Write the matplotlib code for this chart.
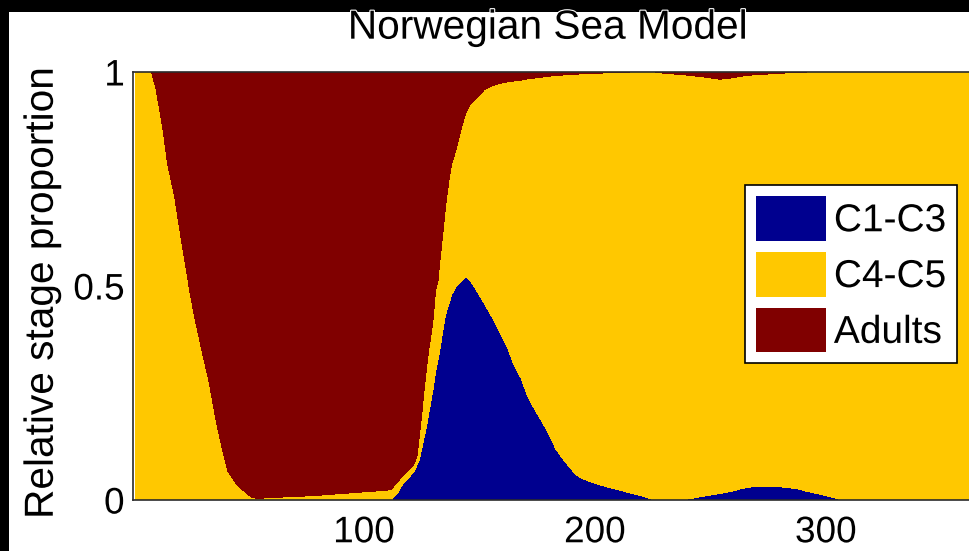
import matplotlib
matplotlib.use("Agg")
import matplotlib.pyplot as plt
import matplotlib.patheffects as pe
from matplotlib.patches import Rectangle

# Day of year and relative proportion of each copepod stage group
days = [1, 5, 8, 10, 13, 15, 18, 20, 23, 25, 27, 30, 33, 36, 39, 41, 45, 50, 52, 55,
        60, 70, 80, 90, 100, 105, 110, 112, 113, 115, 117, 119, 121, 122, 123, 124,
        125, 126, 127, 128, 129, 130, 131, 132, 133, 134, 135, 136, 137, 138, 140,
        142, 144, 146, 148, 150, 152, 154, 156, 158, 160, 162, 165, 168, 171, 174,
        177, 180, 183, 186, 189, 192, 195, 200, 205, 210, 215, 220, 223, 226, 230,
        238, 243, 248, 254, 259, 263, 268, 274, 280, 287, 292, 298, 304, 307, 365]

c1_c3 = [0, 0, 0, 0, 0, 0, 0, 0, 0, 0, 0, 0, 0, 0, 0, 0, 0, 0, 0, 0,
         0, 0, 0, 0, 0, 0, 0, 0, 0.008, 0.02, 0.04, 0.05, 0.062, 0.07, 0.082, 0.095,
         0.12, 0.145, 0.17, 0.2, 0.232, 0.26, 0.3, 0.325, 0.355, 0.39, 0.425, 0.445, 0.462, 0.48, 0.5,
         0.51, 0.522, 0.512, 0.497, 0.478, 0.46, 0.441, 0.423, 0.402, 0.38, 0.358, 0.315, 0.285, 0.241, 0.211,
         0.184, 0.155, 0.12, 0.097, 0.077, 0.058, 0.049, 0.039, 0.031, 0.024, 0.017, 0.01, 0.005, 0, 0,
         0, 0.005, 0.01, 0.015, 0.02, 0.026, 0.031, 0.031, 0.031, 0.027, 0.02, 0.013, 0.005, 0, 0]

c4_c5 = [1.0, 1.0, 1.0, 0.96, 0.865, 0.785, 0.71, 0.64, 0.54, 0.475, 0.42, 0.345, 0.275, 0.185, 0.112, 0.068, 0.035, 0.012, 0.005, 0.004,
         0.006, 0.008, 0.011, 0.015, 0.019, 0.021, 0.023, 0.026, 0.025, 0.025, 0.018, 0.018, 0.016, 0.018, 0.023, 0.055,
         0.08, 0.11, 0.135, 0.15, 0.153, 0.165, 0.19, 0.185, 0.21, 0.225, 0.245, 0.27, 0.293, 0.305, 0.322,
         0.355, 0.381, 0.412, 0.438, 0.467, 0.498, 0.523, 0.546, 0.57, 0.595, 0.619, 0.664, 0.696, 0.743, 0.775,
         0.804, 0.835, 0.872, 0.896, 0.917, 0.937, 0.947, 0.958, 0.967, 0.975, 0.983, 0.99, 0.995, 1.0, 0.997,
         0.994, 0.986, 0.978, 0.968, 0.966, 0.964, 0.962, 0.964, 0.966, 0.972, 0.98, 0.987, 0.995, 1.0, 1.0]

adults = [0, 0, 0, 0.04, 0.135, 0.215, 0.29, 0.36, 0.46, 0.525, 0.58, 0.655, 0.725, 0.815, 0.888, 0.932, 0.965, 0.988, 0.995, 0.996,
          0.994, 0.992, 0.989, 0.985, 0.981, 0.979, 0.977, 0.974, 0.967, 0.955, 0.942, 0.932, 0.922, 0.912, 0.895, 0.85,
          0.8, 0.745, 0.695, 0.65, 0.615, 0.575, 0.51, 0.49, 0.435, 0.385, 0.33, 0.285, 0.245, 0.215, 0.178,
          0.135, 0.097, 0.076, 0.065, 0.055, 0.042, 0.036, 0.031, 0.028, 0.025, 0.023, 0.021, 0.019, 0.016, 0.014,
          0.012, 0.01, 0.008, 0.007, 0.006, 0.005, 0.004, 0.003, 0.002, 0.001, 0, 0, 0, 0, 0.003,
          0.006, 0.009, 0.012, 0.017, 0.014, 0.01, 0.007, 0.005, 0.003, 0.001, 0, 0, 0, 0, 0]

stage_labels = ["C1-C3", "C4-C5", "Adults"]
stage_colors = ["#00008F", "#FFC800", "#800000"]
x_ticks = [100, 200, 300]
y_ticks = [0, 0.5, 1]
y_tick_labels = ["0", "0.5", "1"]

plt.rcParams["font.family"] = ["Liberation Sans", "DejaVu Sans"]
FS = 26.6            # tick and legend text
FS_LABEL = FS * 1.1  # title and axis label
halo = [pe.withStroke(linewidth=1.6, foreground="white")]

W, H = 969, 551
fig = plt.figure(figsize=(W / 100, H / 100), dpi=100)
fig.patch.set_facecolor((1, 1, 1, 0))

# dark strips along the top and left edges of the canvas
fig.add_artist(Rectangle((0, 1 - 12 / H), 1, 12 / H, transform=fig.transFigure,
                         facecolor="black", edgecolor="none", zorder=0))
fig.add_artist(Rectangle((0, 0), 9 / W, 1, transform=fig.transFigure,
                         facecolor="black", edgecolor="none", zorder=0))

ax = fig.add_axes([133 / W, 51 / H, 843 / W, 428 / H])
ax.set_facecolor((1, 1, 1, 0))
ax.stackplot(days, c1_c3, c4_c5, adults, labels=stage_labels,
             colors=stage_colors, linewidth=0, antialiased=False)

ax.set_xlim(0, 365)
ax.set_ylim(0, 1)
ax.set_xticks(x_ticks)
ax.set_yticks(y_ticks)
ax.set_yticklabels(y_tick_labels)
ax.tick_params(axis="both", length=0, labelsize=FS, colors="black")
ax.tick_params(axis="x", pad=11)
ax.tick_params(axis="y", pad=6)
for lab in ax.get_xticklabels() + ax.get_yticklabels():
    lab.set_path_effects(halo)

for side in ("top", "left", "bottom"):
    ax.spines[side].set_color("#2b2b2b")
    ax.spines[side].set_linewidth(1.2)
    ax.spines[side].set_zorder(5)
ax.spines["right"].set_visible(False)

ax.set_title("Norwegian Sea Model", fontsize=FS_LABEL, x=(548 - 133) / 843, pad=24,
             path_effects=halo)
ax.set_ylabel("Relative stage proportion", fontsize=FS_LABEL, labelpad=9,
              y=0.484, path_effects=halo)

leg = ax.legend(loc="upper right", bbox_to_anchor=(957 / W, 1 - 185 / H),
                bbox_transform=fig.transFigure, borderaxespad=0, fontsize=28,
                frameon=True, fancybox=False, framealpha=1.0,
                handlelength=1.8, handleheight=1.4,
                handletextpad=0.2, labelspacing=0.28, borderpad=0.28)
leg.get_frame().set_edgecolor("black")
leg.get_frame().set_linewidth(1.2)
leg.get_frame().set_facecolor("white")
for t in leg.get_texts():
    t.set_path_effects(halo)

fig.savefig("out.png", dpi=100, facecolor=(1, 1, 1, 0))
